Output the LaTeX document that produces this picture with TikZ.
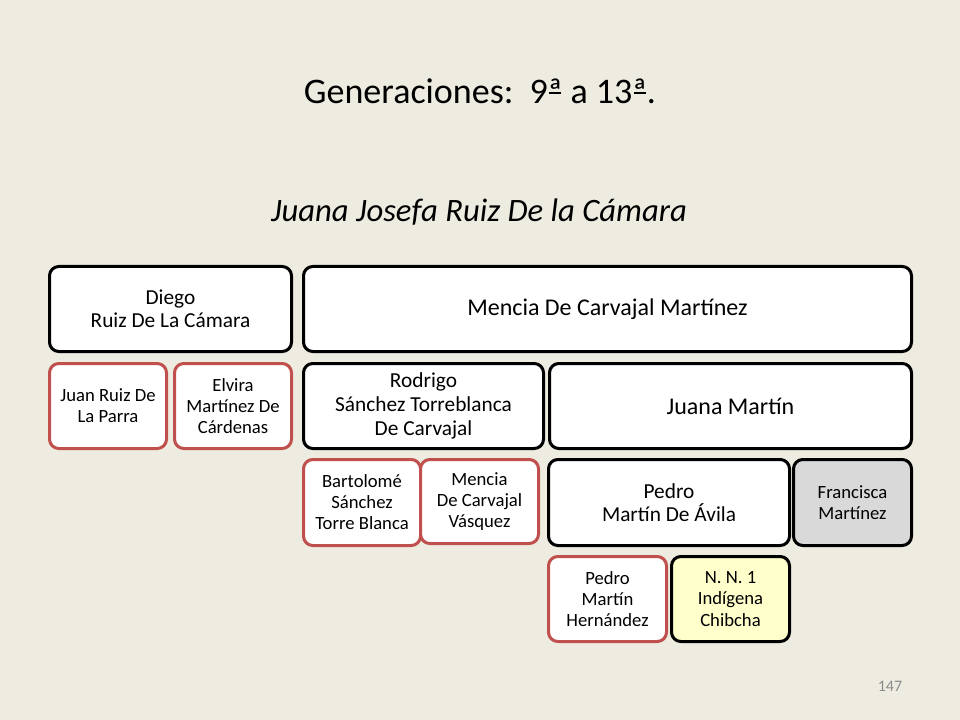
\documentclass[tikz,border=0pt]{standalone}
\usepackage{fontspec}
\setmainfont{Carlito}
\definecolor{bgc}{HTML}{EEECE1}
\definecolor{redb}{HTML}{C0504D}
\definecolor{grayf}{HTML}{D9D9D9}
\definecolor{yelf}{HTML}{FFFFCC}
\definecolor{pnum}{HTML}{8C8C8C}
\newlength\myordw
\newcommand\myordfem{\settowidth\myordw{ª}ª\kern-\myordw\kern0.04em\rule[0.27em]{\dimexpr\myordw-0.08em\relax}{0.055em}\kern0.04em}
\tikzset{
  fam/.style={draw=black, line width=2.25pt, rounded corners=7pt, fill=white, align=center, inner sep=0pt, text=black},
  famred/.style={fam, draw=redb},
  famgray/.style={fam, fill=grayf},
  famyel/.style={fam, fill=yelf},
  fbig/.style={font=\fontsize{18}{21}\selectfont},
  fmid/.style={font=\fontsize{16}{18}\selectfont},
  fmd/.style={font=\fontsize{16}{17}\selectfont},
  fsm/.style={font=\fontsize{14}{15.8}\selectfont},
}
\newcommand\famnode[8]{\node[#6,#7, minimum width={(#4-#2)*0.75pt-2.25pt}, minimum height={(#5-#3)*0.75pt-2.25pt}] (#1) at ({(#2+#4)/2},{(#3+#5)/2}) {#8};}
\begin{document}
\begin{tikzpicture}[x=0.75pt,y=-0.75pt]
\fill[bgc] (0,0) rectangle (960,720);
\useasboundingbox (0,0) rectangle (960,720);
\node[font=\fontsize{27}{32}\selectfont] (title) at (480,91) {Generaciones:\ \ 9\myordfem{} a 13\myordfem.};
\node[font=\fontsize{24.5}{29}\itshape] (sub) at (479,212) {Juana Josefa Ruiz De la Cámara};
\node[font=\fontsize{12}{14}\selectfont, text=pnum] (pg) at (890,686) {147};
\famnode{diego}{48}{265}{293}{353}{fam}{fmd}{Diego\\Ruiz De La Cámara}
\famnode{mencia}{302}{265}{913}{353}{fam}{fbig}{Mencia De Carvajal Martínez}
\famnode{juan}{48}{362}{168}{450}{famred}{fsm}{Juan Ruiz De\\La Parra}
\famnode{elvira}{173}{362}{293}{450}{famred}{fsm}{Elvira\\Martínez De\\Cárdenas}
\famnode{rodrigo}{302}{362}{545}{450}{fam}{fmid}{Rodrigo\\Sánchez Torreblanca\\De Carvajal}
\famnode{juana}{548}{362}{913}{450}{fam}{fbig}{Juana Martín}
\famnode{bartolome}{302}{458}{422}{547}{famred}{fsm}{Bartolomé\\Sánchez\\Torre Blanca}
\famnode{menciav}{419}{458}{540}{545}{famred}{fsm}{Mencia\\De Carvajal\\Vásquez}
\famnode{pedro}{547}{458}{791}{547}{fam}{fmd}{Pedro\\Martín De Ávila}
\famnode{francisca}{792}{458}{913}{547}{famgray}{fsm}{Francisca\\Martínez}
\famnode{pedroh}{547}{555}{668}{643}{famred}{fsm}{Pedro\\Martín\\Hernández}
\famnode{nn}{670}{555}{791}{643}{famyel}{fsm}{N. N. 1\\Indígena\\Chibcha}
\end{tikzpicture}
\end{document}
